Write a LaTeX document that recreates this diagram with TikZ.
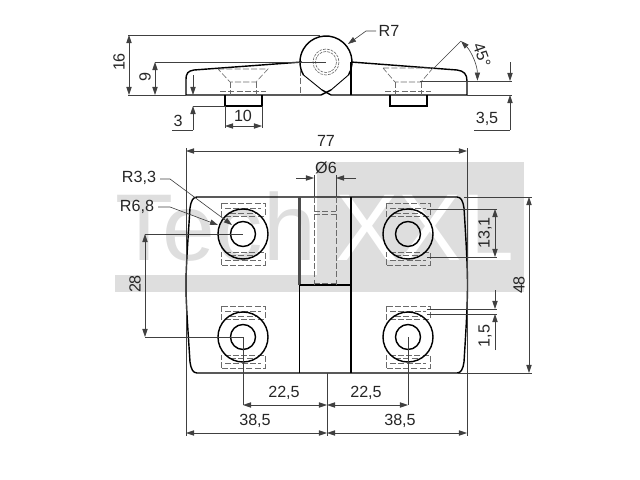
\documentclass[tikz,border=0pt]{standalone}
\usepackage{fontspec}
\setmainfont{Liberation Sans}
\usetikzlibrary{arrows.meta}
\definecolor{markgrey}{gray}{0.87}
\definecolor{dimgrey}{gray}{0.25}
\definecolor{hiddengrey}{gray}{0.42}
\tikzset{
	outline/.style={line width=0.8pt, black},
	hidden/.style={line width=0.35pt, hiddengrey, dash pattern=on 3.5pt off 1.2pt},
	dimline/.style={line width=0.35pt, dimgrey},
	dimtext/.style={font=\fontsize{9.2}{10}\selectfont, text=black!85, inner sep=0pt}
}
\newcommand{\holeplan}[2]{
	\draw [hidden] (#1-22,#2-31) rectangle (#1+22,#2-18);
	\draw [hidden] (#1-18,#2-26) -- (#1+18,#2-26);
	\draw [hidden] (#1-13,#2-21) -- (#1+13,#2-21);
	\draw [hidden] (#1-22,#2+31) rectangle (#1+22,#2+18);
	\draw [hidden] (#1-18,#2+26) -- (#1+18,#2+26);
	\draw [hidden] (#1-13,#2+21) -- (#1+13,#2+21);
	\draw [outline] (#1,#2) circle (25);
	\draw [outline] (#1,#2) circle (12.5);
}
\newcommand{\holeside}[2]{
	\draw [hidden] (#1-25,#2) -- (#1+25,#2) -- (#1+13,82) -- (#1-13,82) -- cycle;
	\draw [hidden] (#1-13,82) -- (#1-13,95);
	\draw [hidden] (#1+13,82) -- (#1+13,95);
	\draw [hidden] (#1-23,91) -- (#1+23,91);
}
\begin{document}
\begin{tikzpicture}[x=0.02cm, y=-0.02cm, > = {Stealth[length=4.6pt, width=3pt, inset=0pt]}]
	\useasboundingbox (0,0) rectangle (640,480);

	% watermark
	\fill [markgrey] (317,162) rectangle (524,292);
	\fill [markgrey] (115,275) rectangle (524,292);
	\node (markleft) [anchor=base west, inner sep=0pt, text=markgrey, font=\fontsize{54}{54}\selectfont] at (115,260) {Tech};
	\node (markright) [anchor=base west, inner sep=0pt, text=white, font=\fontsize{54}{54}\selectfont] at (335,260) {XXL};

	% side view
	\draw [outline] (348.5,75) arc (30:-210:26);
	\draw [line width=0.5pt] (303.5,75) -- (322,90);
	\draw [outline] (322,90) -- (331,95);
	\draw [line width=0.5pt] (348.5,75) -- (331,90);
	\draw [outline] (331,90) -- (321,95);
	\draw [outline] (321,95) -- (186,95) -- (186,80) .. controls (186,73) and (188,71) .. (194,70) -- (302,62);
	\draw [outline] (331,95) -- (467,95) -- (467,81) .. controls (467,74) and (464,71) .. (457,70) -- (351,62);
	\draw [outline] (351,62) -- (351,95);
	\draw [hidden] (300,70) -- (300,95);
	\draw [outline] (225,95) -- (225,106) -- (262,106) -- (262,95);
	\draw [outline] (390,95) -- (390,106) -- (427,106) -- (427,95);
	\holeside{243}{69}
	\holeside{408}{68}
	\draw [hidden, dash pattern=on 1.6pt off 0.6pt] (326,62) circle (13);
	\draw [hidden, dash pattern=on 1.6pt off 0.6pt] (326,62) circle (10.5);

	% side view dimensions
	\draw [dimline] (128,35) -- (320,35);
	\draw [dimline] (128,95) -- (186,95);
	\draw [dimline, <->] (129,35) -- (129,95);
	\node (sixteen) [dimtext, rotate=90] at (119,62) {16};
	\draw [dimline] (155,62) -- (326,62);
	\draw [dimline, <->] (155,62) -- (155,95);
	\node (nine) [dimtext, rotate=90] at (145,77) {9};
	\draw [dimline, ->] (193,75) -- (193,95);
	\draw [dimline, ->] (193,130) -- (193,106);
	\draw [dimline] (193,106) -- (225,106);
	\draw [dimline] (172,130) -- (193,130);
	\node (three) [dimtext] at (178,121) {3};
	\draw [dimline] (225,106) -- (225,128);
	\draw [dimline] (262,106) -- (262,128);
	\draw [dimline, <->] (225,126) -- (262,126);
	\node (ten) [dimtext] at (243,116) {10};
	\draw [dimline, ->] (376,31) -- (366,31) -- (348,44);
	\node (rseven) [dimtext] at (389,31) {R7};
	\draw [dimline] (433,69) -- (461,41);
	\draw [dimline, <->] (461,41) arc (-45:0:56);
	\node (angle) [dimtext, rotate=-70] at (482,55) {45°};
	\draw [dimline] (420,81) -- (512,81);
	\draw [dimline] (467,95) -- (512,95);
	\draw [dimline, ->] (510,62) -- (510,81);
	\draw [dimline, ->] (510,130) -- (510,95);
	\draw [dimline] (474,130) -- (510,130);
	\node (threefive) [dimtext] at (487,119) {3,5};

	% plan view
	\draw [outline] (197,197) -- (457,197) .. controls (461,197) and (463,201) .. (464,208) .. controls (466,240) and (467.5,265) .. (467.5,285) .. controls (467.5,305) and (466,330) .. (464,362) .. controls (463,369) and (461,373) .. (457,373) -- (197,373) .. controls (193,373) and (191,369) .. (190,362) .. controls (188,330) and (186,305) .. (186,285) .. controls (186,265) and (188,240) .. (190,208) .. controls (191,201) and (193,197) .. (197,197) -- cycle;
	\draw [line width=1.3pt, black!70] (299.5,197) -- (299.5,285);
	\draw [outline] (299.5,285) -- (299.5,373);
	\draw [outline] (351,197) -- (351,373);
	\draw [outline] (299.5,285) -- (351,285);
	\draw [hidden] (314,197) -- (314,285);
	\draw [hidden] (336,197) -- (336,285);
	\draw [hidden] (314,211) -- (336,211);
	\draw [hidden] (314,214) -- (336,214);
	\draw [hidden] (314,283) -- (336,283);
	\holeplan{243}{234}
	\holeplan{408}{234}
	\holeplan{243}{337}
	\holeplan{408}{337}

	% plan view dimensions
	\draw [dimline] (186,148) -- (186,436);
	\draw [dimline] (467,148) -- (467,436);
	\draw [dimline, <->] (186,151) -- (467,151);
	\node (seventyseven) [dimtext] at (326,141) {77};
	\draw [dimline] (314,175) -- (314,197);
	\draw [dimline] (336,175) -- (336,197);
	\draw [dimline, ->] (296,178) -- (314,178);
	\draw [dimline, ->] (356,178) -- (336,178);
	\node (bore) [dimtext] at (326,168) {Ø6};
	\draw [dimline, ->] (160,179) -- (170,179) -- (232,225);
	\node (rthree) [dimtext] at (139,178) {R3,3};
	\draw [dimline, ->] (158,207) -- (170,207) -- (218,225);
	\node (rsix) [dimtext] at (137,207) {R6,8};
	\draw [dimline] (145,234) -- (243,234);
	\draw [dimline] (145,337) -- (243,337);
	\draw [dimline, <->] (145,234) -- (145,337);
	\node (twentyeight) [dimtext, rotate=90] at (135,284) {28};
	\draw [dimline] (464,197) -- (532,197);
	\draw [dimline] (458,373) -- (532,373);
	\draw [dimline, <->] (529,197) -- (529,373);
	\node (fortyeight) [dimtext, rotate=90] at (519,285) {48};
	\draw [dimline] (427,209) -- (497,209);
	\draw [dimline] (427,257) -- (497,257);
	\draw [dimline, <->] (495,209) -- (495,257);
	\node (thirteen) [dimtext, rotate=90] at (485,233) {13,1};
	\draw [dimline] (427,309) -- (497,309);
	\draw [dimline] (427,314) -- (497,314);
	\draw [dimline, ->] (495,290) -- (495,309);
	\draw [dimline, ->] (495,350) -- (495,314);
	\node (onefive) [dimtext, rotate=90] at (485,336) {1,5};
	\draw [dimline] (327,373) -- (327,436);
	\draw [dimline] (243,337) -- (243,405);
	\draw [dimline] (408,337) -- (408,405);
	\draw [dimline, <->] (243,405) -- (327,405);
	\draw [dimline, <->] (327,405) -- (408,405);
	\node (leftinner) [dimtext] at (284,393) {22,5};
	\node (rightinner) [dimtext] at (366,393) {22,5};
	\draw [dimline, <->] (186,433) -- (327,433);
	\draw [dimline, <->] (327,433) -- (467,433);
	\node (leftouter) [dimtext] at (255,421) {38,5};
	\node (rightouter) [dimtext] at (400,421) {38,5};
\end{tikzpicture}
\end{document}
